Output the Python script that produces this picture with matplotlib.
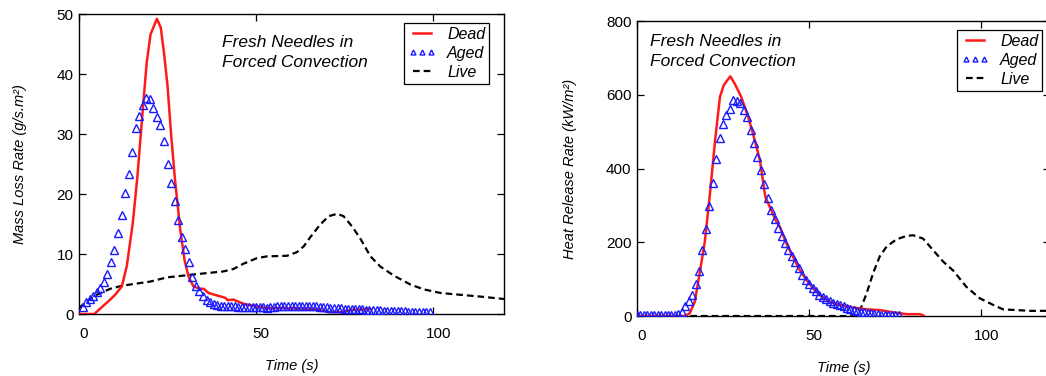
import matplotlib
matplotlib.use('Agg')
import matplotlib.pyplot as plt
import matplotlib.transforms as mtransforms

plt.rcParams['font.family'] = ['Liberation Sans', 'DejaVu Sans']

# ---- Left panel: mass loss rate (g/s.m2) ----
dead_mlr_t = [0, 1.2, 4.3, 8.8, 10.2, 12.1, 13.5, 15.2, 16.5, 18, 19.1, 20.2, 22, 23.1,
              24, 25, 26, 27.1, 28.6, 29.8, 30.9, 32.3, 34.2, 35.2, 36.6, 38.9, 41.3,
              42, 43.6, 46.5, 49.8, 53, 57.8, 67.2, 70.5, 74.7, 76.6, 82.3]
dead_mlr = [0, 0, 0, 2.4, 3.2, 4.6, 8, 15.2, 23, 34, 41.8, 46.6, 49.2, 47.7,
            43.5, 38, 30, 22.4, 14, 9, 6.3, 4.6, 4.2, 4.2, 3.5, 3.1, 2.7,
            2.3, 2.4, 1.7, 1.3, 1.0, 1.0, 0.8, 0.3, 0.3, 0.7, 0.8]

aged_mlr_t = [1, 2, 3, 4, 5, 6, 7, 8, 9, 10, 11, 12, 13, 14, 15, 16, 17, 18, 19, 20,
              21, 22, 23, 24, 25, 26, 27, 28, 29, 30, 31, 32, 33, 34, 35, 36, 37, 38, 39, 40,
              41, 42, 43, 44, 45, 46, 47, 48, 49, 50, 51, 52, 53, 54, 55, 56, 57, 58, 59, 60,
              61, 62, 63, 64, 65, 66, 67, 68, 69, 70, 71, 72, 73, 74, 75, 76, 77, 78, 79, 80,
              81, 82, 83, 84, 85, 86, 87, 88, 89, 90, 91, 92, 93, 94, 95, 96, 97, 98, 99]
aged_mlr = [1.2, 2.0, 2.5, 3.0, 3.6, 4.4, 5.3, 6.6, 8.6, 10.6, 13.5, 16.5, 20.2, 23.4, 27, 31, 33, 34.8, 36, 35.9,
            34.4, 32.9, 31.5, 28.9, 25, 21.9, 18.8, 15.7, 12.9, 10.9, 8.7, 6.2, 4.6, 3.8, 3.0, 2.4, 2.0, 1.7, 1.5, 1.4,
            1.4, 1.4, 1.3, 1.3, 1.2, 1.2, 1.2, 1.2, 1.1, 1.1, 1.1, 1.1, 1.0, 1.1, 1.2, 1.3, 1.4, 1.4, 1.4, 1.4,
            1.4, 1.4, 1.4, 1.4, 1.4, 1.3, 1.3, 1.2, 1.1, 1.1, 1.0, 1.0, 1.0, 1.0, 0.9, 0.9, 0.9, 0.8, 0.8, 0.8,
            0.7, 0.7, 0.6, 0.6, 0.6, 0.5, 0.5, 0.5, 0.5, 0.5, 0.5, 0.5, 0.4, 0.4, 0.3, 0.3, 0.3, 0.3, 0.3]

live_mlr_t = [0, 2.2, 5, 8.8, 12.1, 15.4, 20.1, 24.8, 29.5, 34.2, 40.8, 43.6, 46.5, 50.2,
              53, 58.7, 61.5, 63.5, 65.3, 68.1, 70.5, 72.9, 74.7, 77.1, 79.5, 82.3, 85.1,
              88.9, 93.6, 97.4, 102.1, 107.7, 113.4, 120]
live_mlr = [1.0, 2.1, 3.2, 4.2, 4.7, 5.0, 5.4, 6.1, 6.4, 6.7, 7.1, 7.5, 8.4, 9.3,
            9.6, 9.7, 10.3, 11.3, 12.8, 14.9, 16.3, 16.7, 16.3, 14.6, 12.5, 9.6, 7.9,
            6.4, 4.9, 4.1, 3.5, 3.2, 2.9, 2.5]

# ---- Right panel: heat release rate (kW/m2) ----
dead_hrr_t = [0, 13.9, 15.3, 16.8, 18.2, 19.7, 21.2, 22.7, 24.1, 25.2, 27.1, 28.4, 30.3,
              32.3, 34.2, 35.7, 37.3, 39, 40.5, 41.5, 43.4, 45.3, 47.3, 49.2, 51.2, 53.1,
              56, 58.9, 62.8, 66.7, 70.5, 74.4, 78.3, 82.2, 83.3]
dead_hrr = [0, 0, 7, 39, 116, 201, 332, 477, 594, 626, 650, 630, 594,
            540, 477, 423, 323, 287, 256, 242, 197, 161, 125, 98, 75, 57,
            39, 30, 23, 18, 16, 10, 5, 5, 1]

aged_hrr_t = [0, 1, 2, 3, 4, 5, 6, 7, 8, 9, 10, 11, 12, 13, 14, 15, 16, 17, 18, 19,
              20, 21, 22, 23, 24, 25, 26, 27, 28, 29, 30, 31, 32, 33, 34, 35, 36, 37, 38, 39,
              40, 41, 42, 43, 44, 45, 46, 47, 48, 49, 50, 51, 52, 53, 54, 55, 56, 57, 58, 59,
              60, 61, 62, 63, 64, 65, 66, 67, 68, 69, 70, 71, 72, 73, 74, 75, 76]
aged_hrr = [3, 3, 3, 3, 3, 3, 3, 3, 3, 3, 3, 4, 6, 12, 28, 42, 57, 88, 122, 178,
            235, 298, 362, 425, 482, 521, 546, 562, 586, 584, 578, 560, 540, 505, 470, 430, 395, 357, 320, 288,
            264, 238, 216, 197, 179, 163, 146, 130, 112, 98, 86, 76, 67, 58, 51, 45, 40, 35, 32, 29,
            26, 22, 20, 17, 14, 12, 10, 8, 7, 6, 5, 4, 4, 3, 3, 3, 3]

live_hrr_t = [0, 62.8, 63.8, 65.2, 66.7, 68.6, 70.5, 72.5, 75.4, 78.3, 80.2, 83.1, 86,
              89, 91.9, 95.7, 99.6, 103.5, 106.4, 110.3, 114.2, 120]
live_hrr = [0, 0, 3, 25, 61, 116, 161, 188, 208, 217, 219, 210, 179,
            147, 123, 79, 48, 30, 18, 16, 14, 14]

note = 'Fresh Needles in\nForced Convection'

fig = plt.figure(figsize=(10.46, 3.76), dpi=100)
W, H = 1046, 376


def px_axes(x0, y0, x1, y1):
    # pixel box (left, top, right, bottom) -> figure fraction
    return fig.add_axes([x0 / W, 1 - y1 / H, (x1 - x0) / W, (y1 - y0) / H])


ax1 = px_axes(79, 14, 504, 314)
ax2 = px_axes(637, 21, 1050, 316)


def style(ax, ymax, ystep, ylabel):
    ax.set_xlim(0, 120)
    ax.set_ylim(0, ymax)
    ax.set_xticks([0, 50, 100])
    ax.set_yticks(range(0, ymax + 1, ystep))
    ax.tick_params(direction='in', top=True, right=True, length=5, width=0.9,
                   labelsize=11, pad=4)
    ax.tick_params(axis='x', pad=9)
    # x tick labels sit a little right of their ticks in the original
    shift = mtransforms.ScaledTranslation(5 / 100, 0, fig.dpi_scale_trans)
    for lab in ax.get_xticklabels():
        lab.set_transform(lab.get_transform() + shift)
    for s in ax.spines.values():
        s.set_linewidth(1.0)
    ax.set_xlabel('Time (s)', style='italic', fontsize=10.5, labelpad=13)
    ax.set_ylabel(ylabel, style='italic', fontsize=10.5, labelpad=21)


def draw(ax, dt, dv, at, av, lt, lv, leg_xy):
    ax.plot(dt, dv, color='#ff1a1a', lw=1.8, label='Dead', zorder=3)
    ax.plot(at, av, ls='none', marker='^', ms=5.5, mfc='none', mec='#1a1aff',
            mew=1.0, label='Aged', zorder=4)
    ax.plot(lt, lv, color='black', ls=(0, (3, 1.8)), lw=1.6, label='Live', zorder=2)
    leg = ax.legend(loc='upper left', bbox_to_anchor=leg_xy, borderaxespad=0,
                    numpoints=3, markerscale=0.65, handlelength=1.75,
                    fancybox=False, framealpha=1, edgecolor='black',
                    prop={'style': 'italic', 'size': 11.5},
                    labelspacing=0.25, borderpad=0.25, handletextpad=0.7)
    leg.get_frame().set_linewidth(0.9)


draw(ax1, dead_mlr_t, dead_mlr, aged_mlr_t, aged_mlr, live_mlr_t, live_mlr,
     ((404 - 79) / 425, (314 - 23) / 300))
style(ax1, 50, 10, 'Mass Loss Rate (g/s.m²)')
ax1.text((222 - 79) / 425, (314 - 35) / 300, note, transform=ax1.transAxes,
         style='italic', fontsize=12.5, va='top', ha='left', linespacing=1.4)

draw(ax2, dead_hrr_t, dead_hrr, aged_hrr_t, aged_hrr, live_hrr_t, live_hrr,
     ((957 - 637) / 413, (316 - 30) / 295))
style(ax2, 800, 200, 'Heat Release Rate (kW/m²)')
ax2.text((650 - 637) / 413, (316 - 34) / 295, note, transform=ax2.transAxes,
         style='italic', fontsize=12.5, va='top', ha='left', linespacing=1.4)

fig.savefig('out.png', dpi=100)
